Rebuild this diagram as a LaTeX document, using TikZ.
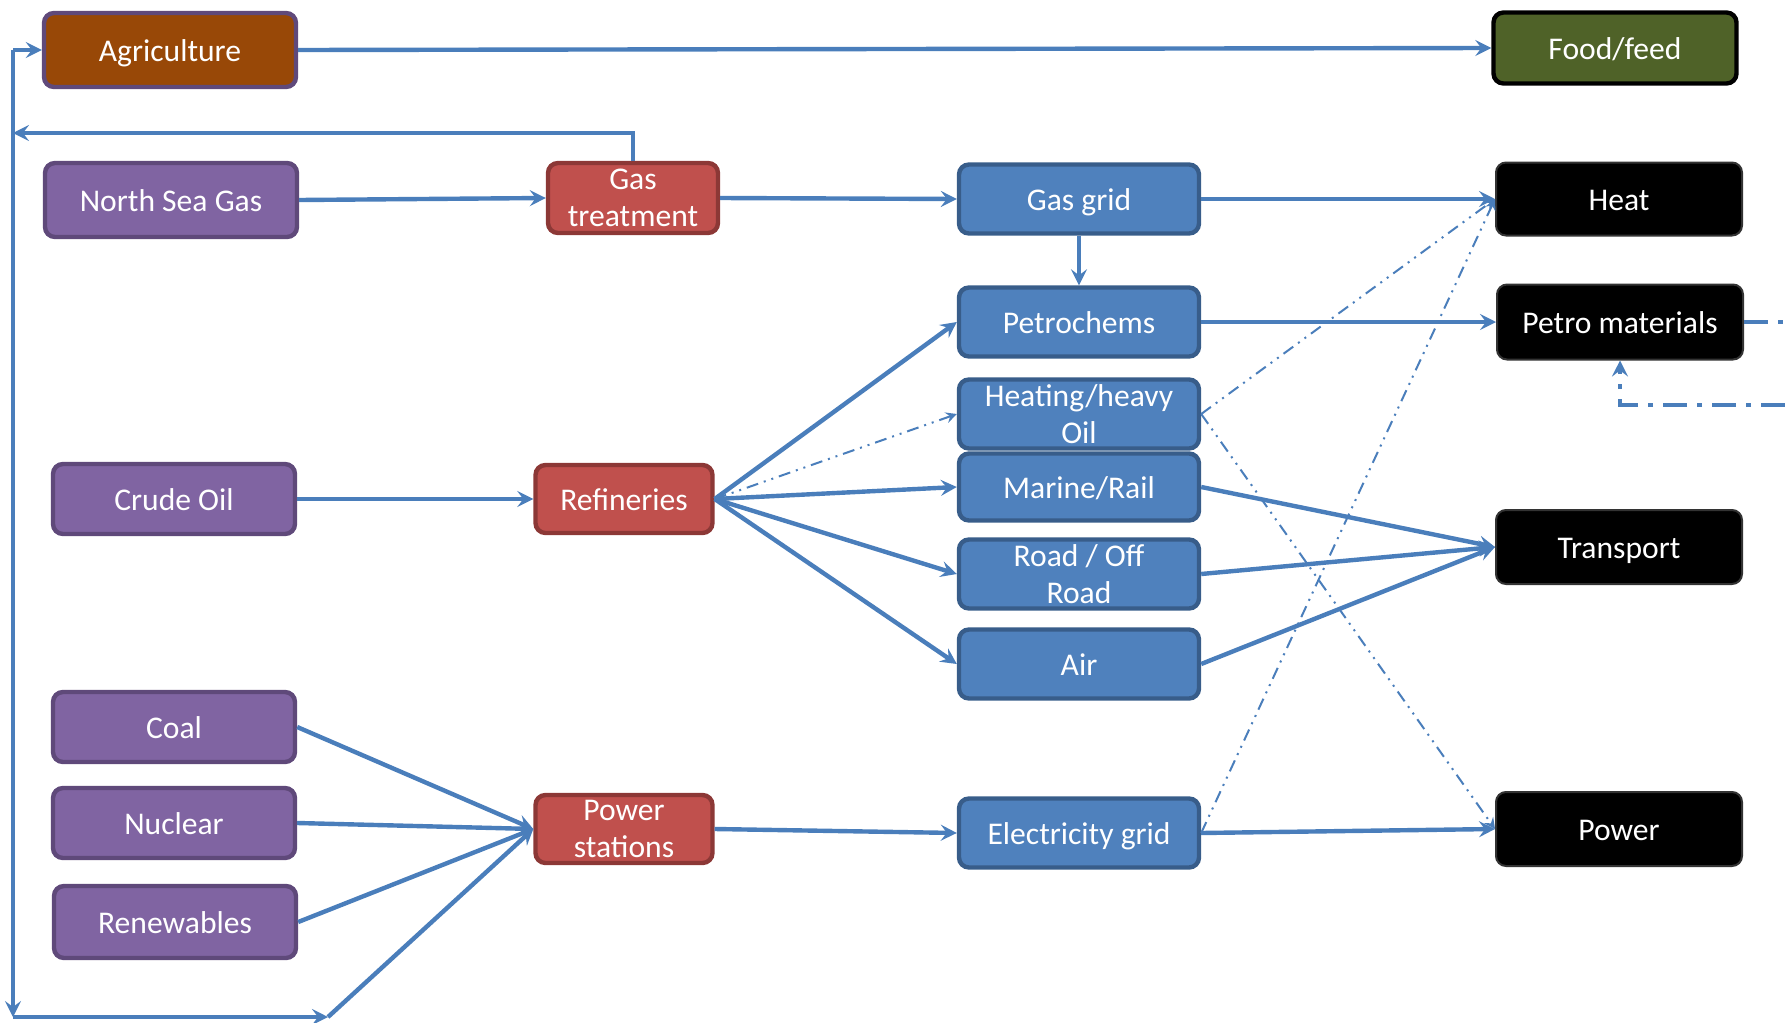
\documentclass[tikz,border=0pt]{standalone}
\usepackage{fontspec}
\setmainfont{Carlito}
\usetikzlibrary{arrows.meta}
\definecolor{lineblue}{HTML}{4A7EBB}
\definecolor{srcfill}{HTML}{8064A2}\definecolor{srcline}{HTML}{5F497A}
\definecolor{agrifill}{HTML}{984807}\definecolor{foodfill}{HTML}{4F6228}
\definecolor{procfill}{HTML}{C0504D}\definecolor{procline}{HTML}{8C3836}
\definecolor{gridfill}{HTML}{4F81BD}\definecolor{gridline}{HTML}{385D8A}
\begin{document}
\begin{tikzpicture}[x=.5pt,y=-.5pt,font=\fontsize{15.8}{18.4}\selectfont,
 box/.style={draw,line width=2.2pt,rounded corners=5pt,text=white,align=center,inner sep=0pt,text height=16pt,text depth=4.25pt},
 twolines/.style={text height={},text depth={},execute at begin node={\rule{0pt}{13.5pt}}},
 srcbox/.style={box,fill=srcfill,draw=srcline,minimum width=121pt,minimum height=35pt},
 procbox/.style={box,fill=procfill,draw=procline,minimum width=88.5pt,minimum height=34pt},
 gridbox/.style={box,fill=gridfill,draw=gridline,minimum width=120pt,minimum height=34.5pt},
 usebox/.style={box,fill=black,draw=black!80,line width=1pt,minimum width=123pt,minimum height=37pt},
 flow/.style={lineblue,line width=2.2pt,-{Stealth[length=8pt,width=8pt,inset=3pt]}},
 maybe/.style={lineblue,line width=1pt,dash pattern=on 6pt off 3pt on 1pt off 3pt on 1pt off 3pt,-{Stealth[length=5.5pt,width=5.5pt,inset=2pt]}},
 loopback/.style={lineblue,line width=2.2pt,dash pattern=on 12pt off 5pt on 2.5pt off 5pt}]
\useasboundingbox (0,0) rectangle (1785,1023);
\node[srcbox,fill=agrifill,minimum width=126pt,minimum height=37pt] (agri) at (170,50){Agriculture};
\node[srcbox,minimum width=126pt,minimum height=37pt] (nsg) at (171,200){North Sea Gas};
\node[srcbox] (crude) at (174,499){Crude Oil};
\node[srcbox] (coal) at (174,727){Coal};\node[srcbox] (nuclear) at (174,823){Nuclear};\node[srcbox,minimum height=36pt] (renew) at (175,922){Renewables};
\node[procbox,twolines,minimum width=85pt,minimum height=35pt] (gt) at (633,198){Gas\\treatment};
\node[procbox] (ref) at (624,499){Refineries};\node[procbox,twolines] (ps) at (624,829){Power\\stations};
\node[gridbox] (gasgrid) at (1079,199){Gas grid};\node[gridbox] (petchem) at (1079,322){Petrochems};
\node[gridbox,twolines] (heating) at (1079,414){Heating/heavy\\Oil};\node[gridbox,minimum height=33.5pt] (marine) at (1079,487){Marine/Rail};
\node[gridbox,twolines] (road) at (1079,574){Road / Off\\Road};\node[gridbox] (air) at (1079,664){Air};\node[gridbox] (elec) at (1079,833){Electricity grid};
\node[usebox,fill=foodfill,draw=black,line width=2.2pt,minimum width=121.5pt,minimum height=35.5pt] (food) at (1615,48){Food/feed};
\node[usebox,minimum height=36.5pt] (heat) at (1619,199){Heat};\node[usebox,minimum height=37.5pt] (petmat) at (1620,322){Petro materials};
\node[usebox] (transport) at (1619,547){Transport};\node[usebox] (power) at (1619,829){Power};
\coordinate (loopT) at (13,50);\coordinate (loopB) at (13,1017);\coordinate (loopR) at (328,1017);\coordinate (gtL) at (13,133);
\coordinate (pmOut) at (1785,322);\coordinate (pmIn) at (1785,405);
\draw[flow] (agri.east)--(food.west);\draw[flow] (nsg.east)--(gt.west);\draw[flow] (gt.east)--(gasgrid.west);
\draw[flow] (gasgrid.south)--(petchem.north);\draw[flow] (gasgrid.east)--(heat.west);\draw[flow] (petchem.east)--(petmat.west);
\draw[flow] (crude.east)--(ref.west);\draw[flow] (ps.east)--(elec.west);\draw[flow] (elec.east)--(power.west);
\foreach \t in {petchem,marine,road,air}{\draw[flow] (ref.east)--(\t.west);}
\foreach \s in {marine,road,air}{\draw[flow] (\s.east)--(transport.west);}
\foreach \s in {coal,nuclear,renew}{\draw[flow] (\s.east)--(ps.west);}
\draw[maybe] (ref.east)--(heating.west);\draw[maybe] (heating.east)--(heat.west);\draw[maybe] (heating.east)--(power.west);\draw[maybe] (elec.east)--(heat.west);
\draw[flow] (gt.north)|-(gtL);\draw[flow] (loopT)--(agri.west);\draw[flow] (loopT)--(loopB);\draw[flow] (loopB)--(loopR);\draw[flow] (loopR)--(ps.west);
\draw[loopback] (petmat.east)--(pmOut);\draw[loopback,-{Stealth[length=8pt,width=8pt,inset=3pt]}] (pmIn)-|(petmat.south);
\end{tikzpicture}
\end{document}
